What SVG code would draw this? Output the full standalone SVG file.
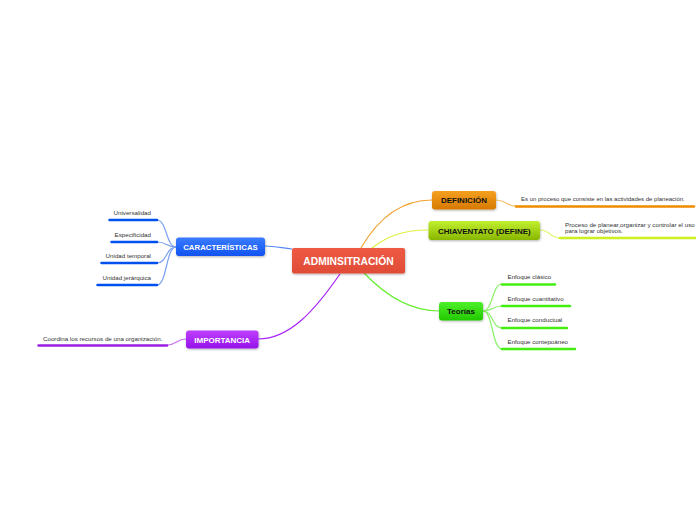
<svg xmlns="http://www.w3.org/2000/svg" width="696" height="520" viewBox="0 0 696 520">
<defs>
<linearGradient id="gRed" x1="0" y1="0" x2="0" y2="1"><stop offset="0" stop-color="#ee5a44"/><stop offset="1" stop-color="#e04c36"/></linearGradient>
<linearGradient id="gOrange" x1="0" y1="0" x2="0" y2="1"><stop offset="0" stop-color="#f5a020"/><stop offset="1" stop-color="#d77900"/></linearGradient>
<linearGradient id="gLime" x1="0" y1="0" x2="0" y2="1"><stop offset="0" stop-color="#c2f030"/><stop offset="1" stop-color="#88b600"/></linearGradient>
<linearGradient id="gGreen" x1="0" y1="0" x2="0" y2="1"><stop offset="0" stop-color="#4ef02a"/><stop offset="1" stop-color="#22c800"/></linearGradient>
<linearGradient id="gBlue" x1="0" y1="0" x2="0" y2="1"><stop offset="0" stop-color="#3a7cff"/><stop offset="1" stop-color="#1152f0"/></linearGradient>
<linearGradient id="gPurple" x1="0" y1="0" x2="0" y2="1"><stop offset="0" stop-color="#c040ff"/><stop offset="1" stop-color="#9412ea"/></linearGradient>
<filter id="sh" x="-10%" y="-20%" width="120%" height="150%"><feDropShadow dx="0.5" dy="1" stdDeviation="0.8" flood-color="#000" flood-opacity="0.3"/></filter>
</defs>
<style>
.node rect{filter:url(#sh)}
.lbl{font-family:"Liberation Sans",Arial,sans-serif;font-weight:bold;text-anchor:middle}
.leaf{font-family:"Liberation Sans",Arial,sans-serif;font-size:6.2px;fill:#333}
.ul{fill:none;stroke-width:2.5;stroke-linecap:round}
.cn{fill:none;stroke-width:1.2}
</style>
<rect width="696" height="520" fill="#ffffff"/>
<g id="connectors">
<path class="cn" d="M361,248 C380,215 405,200 432,200" stroke="#f5a030"/>
<path class="cn" d="M372,248 C385,238 400,230 428,230" stroke="#e0f040"/>
<path class="cn" d="M364,273 C385,295 410,311 439,311" stroke="#66ee33"/>
<path class="cn" d="M292,249 C282,248 275,246 265,246" stroke="#5588ee"/>
<path class="cn" d="M340,274 C315,310 290,339 258,339" stroke="#aa22ff" stroke-width="1.5"/>
<path class="cn" d="M496,200 C506,200 506,206 516,206" stroke="#f8c070"/>
<path class="cn" d="M540,230 C550,230 550,238 560,238" stroke="#e4f470"/>
<path class="cn" d="M186,339 C176,339 177,345 167,345" stroke="#c870f8"/>
<path class="cn" d="M176,247 C166,247 167,220 157,220" stroke="#7aa0f4"/>
<path class="cn" d="M176,247 C166,247 167,242 157,242" stroke="#7aa0f4"/>
<path class="cn" d="M176,247 C166,247 167,263 157,263" stroke="#7aa0f4"/>
<path class="cn" d="M176,247 C166,247 167,285 157,285" stroke="#7aa0f4"/>
<path class="cn" d="M483,311 C493,311 492,284 502,284" stroke="#88f066"/>
<path class="cn" d="M483,311 C493,311 492,306 502,306" stroke="#88f066"/>
<path class="cn" d="M483,311 C493,311 492,328 502,328" stroke="#88f066"/>
<path class="cn" d="M483,311 C493,311 492,349 502,349" stroke="#88f066"/>
</g>
<g id="n-central" class="node"><rect x="292" y="248" width="113" height="25.5" rx="2" fill="url(#gRed)"/><text class="lbl" x="348.5" y="264.5" font-size="10.3" fill="#ffffff">ADMINSITRACIÓN</text></g>
<g id="n-definicion" class="node"><rect x="432" y="191" width="64" height="18.5" rx="3" fill="url(#gOrange)"/><text class="lbl" x="464" y="203" font-size="8" fill="#111">DEFINICIÓN</text></g>
<g id="n-definicion-leaf"><text class="leaf" x="521" y="201" style="font-size:6px">Es un proceso que consiste en las actividades de planeación.</text><path class="ul" d="M516,206.5 H694" stroke="#f08c00"/></g>
<g id="n-chiaventato" class="node"><rect x="428.5" y="221" width="111.5" height="19" rx="3" fill="url(#gLime)"/><text class="lbl" x="484.3" y="233.5" font-size="8" fill="#111">CHIAVENTATO (DEFINE)</text></g>
<g id="n-chiaventato-leaf"><text class="leaf" x="565" y="227">Proceso de planear,organizar y controlar el uso</text><text class="leaf" x="565" y="233">para lograr objetivos.</text><path class="ul" d="M560,238 H697" stroke="#ccf020"/></g>
<g id="n-teorias" class="node"><rect x="439" y="302" width="44" height="18.5" rx="3" fill="url(#gGreen)"/><text class="lbl" x="461" y="314" font-size="8" fill="#111">Teorías</text></g>
<g id="n-t1"><text class="leaf" x="507.5" y="279">Enfoque clásico</text><path class="ul" d="M502,284.5 H555" stroke="#44ee11"/></g>
<g id="n-t2"><text class="leaf" x="507.5" y="301">Enfoque cuantitativo</text><path class="ul" d="M502,306 H570" stroke="#44ee11"/></g>
<g id="n-t3"><text class="leaf" x="507.5" y="322">Enfoque conductual</text><path class="ul" d="M502,328 H567" stroke="#44ee11"/></g>
<g id="n-t4"><text class="leaf" x="507.5" y="343.5">Enfoque contepoáneo</text><path class="ul" d="M502,349 H575" stroke="#44ee11"/></g>
<g id="n-caracteristicas" class="node"><rect x="176" y="237.5" width="89" height="18.5" rx="3" fill="url(#gBlue)"/><text class="lbl" x="220.5" y="249.8" font-size="7.8" fill="#ffffff">CARACTERÍSTICAS</text></g>
<g id="n-c1"><text class="leaf" x="151" y="215" text-anchor="end">Universalidad</text><path class="ul" d="M109.5,220 H157" stroke="#0050f0"/></g>
<g id="n-c2"><text class="leaf" x="151" y="237" text-anchor="end">Especificidad</text><path class="ul" d="M111.5,242 H157" stroke="#0050f0"/></g>
<g id="n-c3"><text class="leaf" x="151" y="258" text-anchor="end">Unidad temporal</text><path class="ul" d="M101.5,263 H157" stroke="#0050f0"/></g>
<g id="n-c4"><text class="leaf" x="151" y="280" text-anchor="end">Unidad jerárquica</text><path class="ul" d="M97.5,285 H157" stroke="#0050f0"/></g>
<g id="n-importancia" class="node"><rect x="186" y="330.5" width="72.5" height="18" rx="3" fill="url(#gPurple)"/><text class="lbl" x="222.2" y="342.5" font-size="8" fill="#ffffff">IMPORTANCIA</text></g>
<g id="n-i1"><text class="leaf" x="43" y="341">Coordina los recursos de una organización.</text><path class="ul" d="M38.5,345.5 H167" stroke="#9a1fe0"/></g>
</svg>
